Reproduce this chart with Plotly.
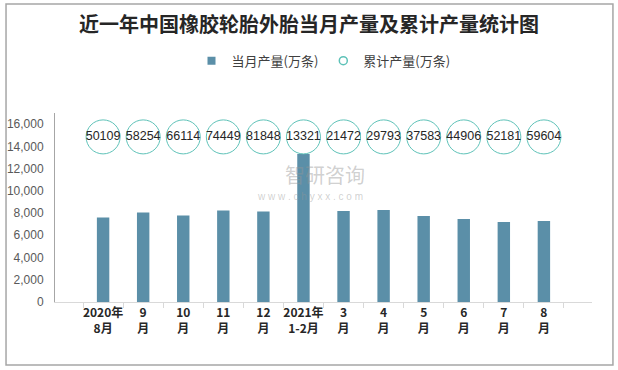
import plotly.graph_objects as go

categories = ["2020年<br>8月", "9<br>月", "10<br>月", "11<br>月", "12<br>月", "2021年<br>1-2月",
              "3<br>月", "4<br>月", "5<br>月", "6<br>月", "7<br>月", "8<br>月"]
monthly = [7610, 8060, 7790, 8240, 8150, 13321, 8180, 8270, 7730, 7460, 7190, 7280]
cumulative = [50109, 58254, 66114, 74449, 81848, 13321, 21472, 29793, 37583, 44906, 52181, 59604]
label_row_y = 14850  # vertical level of cumulative label circles

bar_color = "#5B8FA8"
circle_color = "#5EC2B8"
cjk = "Noto Sans CJK SC"

fig = go.Figure()
fig.add_trace(go.Bar(x=categories, y=monthly, marker=dict(color=bar_color, line=dict(width=0)),
                     showlegend=False, hoverinfo="y"))
fig.add_trace(go.Scatter(x=categories, y=[label_row_y] * len(categories), mode="markers+text",
                         marker=dict(symbol="circle", size=34, color="white",
                                     line=dict(color=circle_color, width=1)),
                         text=[str(v) for v in cumulative], textposition="middle center",
                         textfont=dict(family="Liberation Sans", size=12.5, color="#262626"),
                         showlegend=False))
# legend entries
fig.add_trace(go.Scatter(x=[None], y=[None], mode="markers", name="当月产量(万条)",
                         marker=dict(symbol="square", size=8, color=bar_color)))
fig.add_trace(go.Scatter(x=[None], y=[None], mode="markers", name="累计产量(万条)",
                         marker=dict(symbol="circle-open", size=8, color=circle_color,
                                     line=dict(width=1.5))))

fig.update_layout(
    width=618, height=370,
    margin=dict(l=55, r=26, t=113, b=68, autoexpand=False),
    paper_bgcolor="white", plot_bgcolor="white",
    title=dict(text="<b>近一年中国橡胶轮胎外胎当月产量及累计产量统计图</b>",
               x=0.5, xanchor="center", y=0.932, yanchor="middle",
               font=dict(family=cjk, size=20, color="#262626")),
    legend=dict(orientation="h", x=0.5, xanchor="center", yref="container", y=0.836, yanchor="middle",
                font=dict(family=cjk, size=13, color="#404040"),
                itemwidth=30, tracegroupgap=0, bgcolor="rgba(0,0,0,0)"),
    bargap=0.69,
    xaxis=dict(showline=True, linecolor="#D9D9D9", linewidth=1, ticks="outside",
               tickson="boundaries", ticklen=5, tickcolor="#D9D9D9",
               tickvals=categories, ticktext=["<b>%s</b>" % c.replace("<br>", "</b><br><b>") for c in categories],
               tickfont=dict(family=cjk, size=12, color="#262626"), tickangle=0,
               showgrid=False, fixedrange=True, automargin=False),
    yaxis=dict(range=[0, 17000], dtick=2000, tickformat=",d", showline=True,
               linecolor="#A6A6A6", linewidth=1, showgrid=False, zeroline=False, automargin=False,
               ticks="outside", ticklen=8, tickcolor="rgba(0,0,0,0)",
               tickfont=dict(family="Liberation Sans", size=12, color="#595959")),
    shapes=[dict(type="rect", xref="paper", yref="paper", x0=-0.0912, x1=1.039, y0=-0.333, y1=1.577,
                 line=dict(color="#A6A6A6", width=1.5))],
    annotations=[
        dict(text="智研咨询", xref="paper", yref="paper", x=0.503, y=0.672, showarrow=False,
             xanchor="center", yanchor="middle",
             font=dict(family=cjk, size=20, color="rgba(150,150,150,0.45)")),
        dict(text="w w w . c h y x x . c o m", xref="paper", yref="paper", x=0.475, y=0.56,
             xanchor="center", yanchor="middle",
             showarrow=False, font=dict(family="Liberation Sans", size=10, color="rgba(150,150,150,0.45)")),
    ],
)

fig.write_html("out.html", config={"displayModeBar": False},
               post_script="document.body.style.margin='0';")
